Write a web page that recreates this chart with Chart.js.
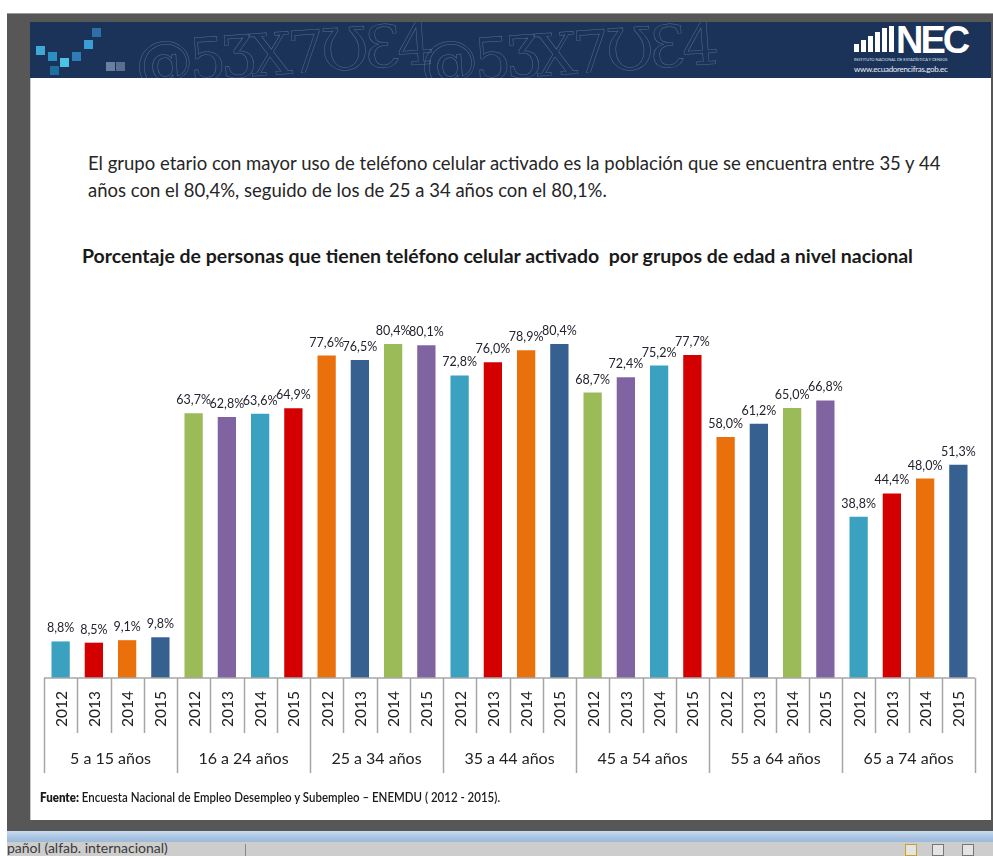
<!DOCTYPE html>
<html lang="es">
<head>
<meta charset="utf-8">
<script src="https://cdn.jsdelivr.net/npm/chart.js@4/dist/chart.umd.min.js"></script>
<style>
  html, body { margin: 0; padding: 0; background: #fff; }
  body { width: 993px; height: 856px; position: relative; overflow: hidden; font-family: Lato, 'Open Sans', sans-serif; }
  .frame { position: absolute; left: 7px; top: 13px; width: 986px; height: 830px; background: #575757; border-top: 1px solid #9a9a9a; }
  .slide { position: absolute; left: 30px; top: 22px; width: 961px; height: 798px; background: #fff; border-left: 1px solid #c8c8c8; box-sizing: border-box; }
  .banner { position: absolute; left: 30px; top: 22px; width: 961px; height: 56px; background: #1b3358; overflow: hidden; }
  .deco { position: absolute; top: -2px; font-size: 58px; font-family: 'DejaVu Serif', serif; color: transparent; -webkit-text-stroke: 0.5px rgba(180,198,222,0.38); letter-spacing: -4px; white-space: nowrap; transform: rotate(-4deg); }
  .sq { position: absolute; width: 9px; height: 9px; }
  .logo { position: absolute; left: 824px; top: 4px; color: #fff; }
  .logo .nec { position: absolute; left: 42px; top: -7px; font: 700 38px 'Liberation Sans Narrow', 'Liberation Sans', sans-serif; letter-spacing: -3px; }
  .logo .bar { position: absolute; background: #fff; width: 5px; }
  .logo .sub { position: absolute; left: 0; top: 31px; font-size: 4px; white-space: nowrap; color: #dfe6f0; }
  .logo .url { position: absolute; left: 0; top: 38px; font-size: 8px; white-space: nowrap; color: #e8eef6; letter-spacing: -0.3px; }
  .intro { position: absolute; left: 88px; top: 150px; font-size: 18.5px; line-height: 27px; color: #262626; white-space: nowrap; }
  .title { position: absolute; left: 82px; top: 244px; font-size: 19.5px; font-weight: 700; color: #1a1a1a; white-space: nowrap; }
  .source { position: absolute; left: 40px; top: 790px; font-size: 12.5px; color: #1a1a1a; white-space: nowrap; transform: scaleX(0.92); transform-origin: left center; font-weight: 600; }
  .source b { font-weight: 800; }
  canvas { position: absolute; left: 30px; top: 78px; }
  .blue { position: absolute; left: 7px; top: 831px; width: 986px; height: 11px; background: linear-gradient(#c9dbef, #a8c3e0 60%, #9ebadb); }
  .status { position: absolute; left: 7px; top: 842px; width: 986px; height: 14px; background: #cdcdcd; font-size: 14px; line-height: 14px; color: #3a3a3a; }
  .status span { position: absolute; left: 0; top: -1px; }
  .status .sep { position: absolute; left: 238px; top: 2px; width: 1px; height: 12px; background: #888; }
  .icon { position: absolute; top: 2px; width: 12px; height: 12px; border: 1px solid #777; background: #e4e4e4; box-sizing: border-box; }
</style>
</head>
<body>
<div class="frame"></div>
<div class="slide"></div>
<div class="banner">
  <div class="deco" style="left:105px">@5ƷX7ƱƐ4</div>
  <div class="deco" style="left:390px">@5ƷX7ƱƐ4</div>
  <div class="sq" style="left:6px;top:24px;background:#3fa9d6"></div>
  <div class="sq" style="left:18px;top:30px;background:#2b8fc2"></div>
  <div class="sq" style="left:30px;top:36px;background:#4cc3e6"></div>
  <div class="sq" style="left:42px;top:30px;background:#2e7db6"></div>
  <div class="sq" style="left:54px;top:18px;background:#3a9fd8"></div>
  <div class="sq" style="left:62px;top:6px;background:#2f6fa8"></div>
  <div class="sq" style="left:20px;top:44px;background:#1f6f9c"></div>
  <div class="sq" style="left:76px;top:40px;background:#6a7fa0"></div>
  <div class="sq" style="left:86px;top:40px;background:#5b6e92"></div>
  <div class="logo">
    <div class="bar" style="left:0;height:8px;top:18px"></div>
    <div class="bar" style="left:7px;height:12px;top:14px"></div>
    <div class="bar" style="left:14px;height:16px;top:10px"></div>
    <div class="bar" style="left:21px;height:20px;top:6px"></div>
    <div class="bar" style="left:28px;height:24px;top:2px"></div>
    <div class="bar" style="left:35px;height:26px;top:0"></div>
    <div class="nec">NEC</div>
    <div class="sub">INSTITUTO NACIONAL DE ESTADÍSTICA Y CENSOS</div>
    <div class="url">www.ecuadorencifras.gob.ec</div>
  </div>
</div>
<div class="intro">El grupo etario con mayor uso de teléfono celular activado es la población que se encuentra entre 35 y 44<br>años con el 80,4%, seguido de los de 25 a 34 años con el 80,1%.</div>
<div class="title">Porcentaje de personas que tienen teléfono celular activado&nbsp; por grupos de edad a nivel nacional</div>
<canvas id="chart" width="961" height="742"></canvas>
<div class="source"><b>Fuente:</b> Encuesta Nacional de Empleo Desempleo y Subempleo – ENEMDU ( 2012 - 2015).</div>
<div class="blue"></div>
<div class="status"><span>pañol (alfab. internacional)</span><div class="sep"></div>
  <div class="icon" style="left:898px;border-color:#c9a227"></div>
  <div class="icon" style="left:925px"></div>
  <div class="icon" style="left:955px"></div>
</div>
<script>
// Percentage of people with an active mobile phone, by age group and year.
const AGE_GROUPS = ['5 a 15 años', '16 a 24 años', '25 a 34 años', '35 a 44 años', '45 a 54 años', '55 a 64 años', '65 a 74 años'];
const YEARS = ['2012', '2013', '2014', '2015'];
const PCT_5_15 = [8.8, 8.5, 9.1, 9.8];
const PCT_16_24 = [63.7, 62.8, 63.6, 64.9];
const PCT_25_34 = [77.6, 76.5, 80.4, 80.1];
const PCT_35_44 = [72.8, 76.0, 78.9, 80.4];
const PCT_45_54 = [68.7, 72.4, 75.2, 77.7];
const PCT_55_64 = [58.0, 61.2, 65.0, 66.8];
const PCT_65_74 = [38.8, 44.4, 48.0, 51.3];

const GROUP_VALUES = [PCT_5_15, PCT_16_24, PCT_25_34, PCT_35_44, PCT_45_54, PCT_55_64, PCT_65_74];
const PALETTE = ['#3aa2c0', '#d40000', '#ea700b', '#35608f', '#9bbb59', '#8064a2'];

const labels = GROUP_VALUES.flatMap(() => YEARS);
const values = GROUP_VALUES.flat();
const colors = values.map((_, i) => PALETTE[i % PALETTE.length]);

const fmt = (v) => v.toFixed(1).replace('.', ',') + '%';

// two-level category axis (years, then age groups) plus value labels
const groupedAxis = {
  id: 'groupedAxis',
  afterDraw(chart) {
    const { ctx, chartArea } = chart;
    const x = chart.scales.x;
    const n = labels.length;
    const step = (x.right - x.left) / n;
    const base = chartArea.bottom;
    ctx.save();
    ctx.strokeStyle = '#a6a6a6';
    ctx.lineWidth = 1.5;
    ctx.beginPath();
    ctx.moveTo(x.left, base);
    ctx.lineTo(x.right, base);
    for (let i = 0; i <= n; i++) {
      const px = Math.round(x.left + i * step) + 0.5;
      ctx.moveTo(px, base);
      ctx.lineTo(px, base + (i % YEARS.length === 0 ? 95 : 55));
    }
    ctx.stroke();

    ctx.fillStyle = '#222';
    ctx.textAlign = 'center';
    ctx.textBaseline = 'middle';
    ctx.font = '15.5px Lato, sans-serif';
    labels.forEach((lab, i) => {
      ctx.save();
      ctx.translate(x.getPixelForValue(i), base + 31);
      ctx.rotate(-Math.PI / 2);
      ctx.fillText(lab, 0, 1);
      ctx.restore();
    });

    ctx.font = '16px Lato, sans-serif';
    AGE_GROUPS.forEach((g, gi) => {
      const cx = x.left + (gi + 0.5) * YEARS.length * step;
      ctx.fillText(g, cx, base + 81);
    });

    const meta = chart.getDatasetMeta(0);
    ctx.font = '12.5px Lato, sans-serif';
    ctx.fillStyle = '#23232f';
    ctx.textBaseline = 'alphabetic';
    meta.data.forEach((bar, i) => {
      ctx.fillText(fmt(values[i]), bar.x, bar.y - 9);
    });
    ctx.restore();
  },
};

new Chart(document.getElementById('chart'), {
  type: 'bar',
  data: {
    labels,
    datasets: [{
      data: values,
      backgroundColor: colors,
      borderWidth: 0,
      categoryPercentage: 1,
      barPercentage: 0.55,
    }],
  },
  options: {
    responsive: false,
    animation: false,
    devicePixelRatio: 1,
    layout: { padding: { left: 14, right: 16, top: 226, bottom: 142 } },
    scales: {
      x: { display: false },
      y: { display: false, min: 0, max: 90 },
    },
    plugins: {
      legend: { display: false },
      tooltip: { enabled: false },
    },
  },
  plugins: [groupedAxis],
});
</script>
</body>
</html>
